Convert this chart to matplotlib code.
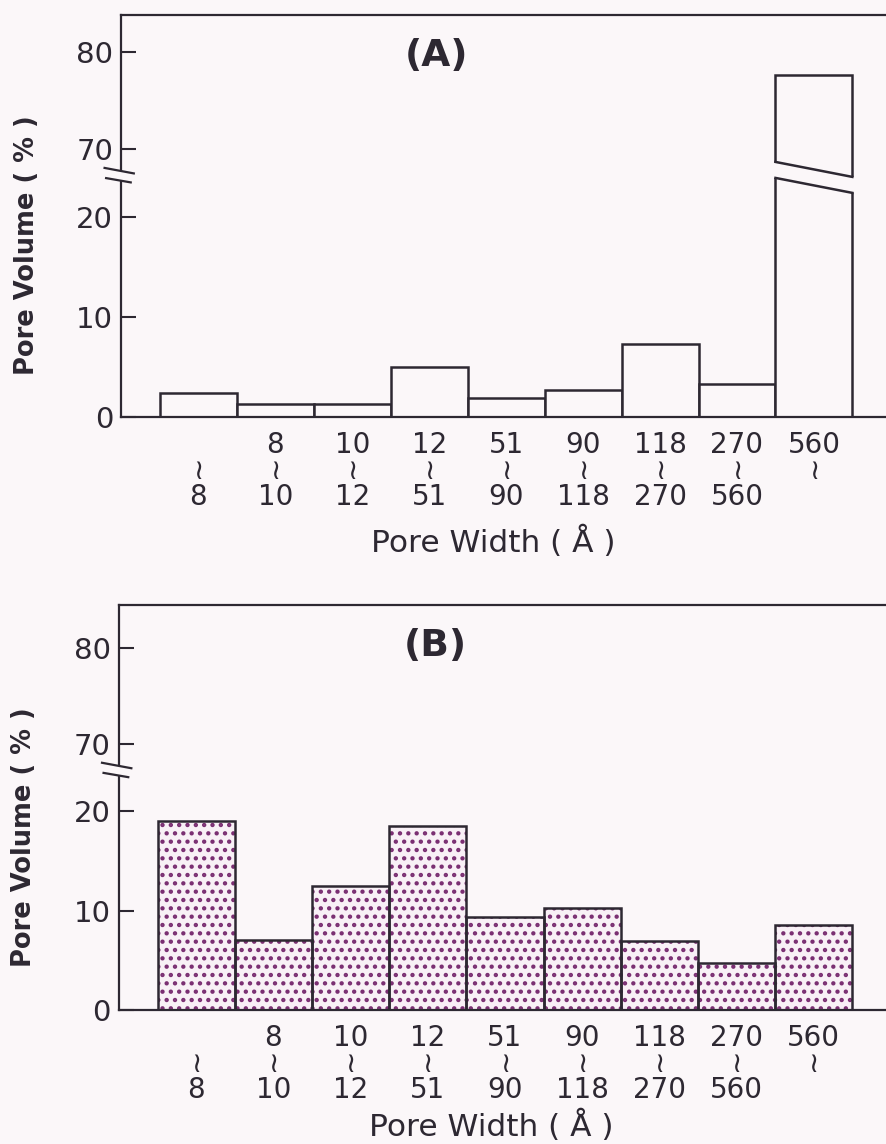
import numpy as np
import matplotlib
matplotlib.use("Agg")
import matplotlib.pyplot as plt
from matplotlib.patches import Polygon

# pore width classes (Angstrom) and pore volume share (%) for the two samples
lower_edges = ["", "8", "10", "12", "51", "90", "118", "270", "560"]
upper_edges = ["8", "10", "12", "51", "90", "118", "270", "560", ""]
volume_a = [2.4, 1.3, 1.3, 5.0, 1.9, 2.7, 7.3, 3.3, 77.6]
volume_b = [19.0, 7.1, 12.5, 18.5, 9.4, 10.3, 6.9, 4.7, 8.6]
ytick_values = [0, 10, 20, 70, 80]

BG = "#fbf7f9"
INK = "#2d2832"
DOT = "#7a2e72"
FILL = "#f8f0f6"

plt.rcParams["font.family"] = ["DejaVu Sans"]
plt.rcParams["hatch.linewidth"] = 1.9
plt.rcParams["text.color"] = INK

# broken y axis: true scale up to 22, squeeze 22..70, then slightly tighter above
LOW_TOP = 22.0
HIGH_BASE = 70.0
HIGH_POS = 26.75
HIGH_SLOPE = 0.975


def fwd(v):
    v = np.asarray(v, dtype=float)
    mid = LOW_TOP + (v - LOW_TOP) * (HIGH_POS - LOW_TOP) / (HIGH_BASE - LOW_TOP)
    high = HIGH_POS + (v - HIGH_BASE) * HIGH_SLOPE
    return np.where(v <= LOW_TOP, v, np.where(v < HIGH_BASE, mid, high))


def inv(u):
    u = np.asarray(u, dtype=float)
    mid = LOW_TOP + (u - LOW_TOP) * (HIGH_BASE - LOW_TOP) / (HIGH_POS - LOW_TOP)
    high = HIGH_BASE + (u - HIGH_POS) / HIGH_SLOPE
    return np.where(u <= LOW_TOP, u, np.where(u < HIGH_POS, mid, high))


def axis_break(ax):
    # the "//" mark on the left spine, drawn in scaled units
    tr = ax.transLimits + ax.transAxes
    x0 = ax.get_xlim()[0]
    ax.add_patch(Polygon([(x0 - 0.05, 24.60), (x0 + 0.05, 24.55),
                          (x0 + 0.05, 23.58), (x0 - 0.05, 23.63)],
                         closed=True, transform=tr, fc=BG, ec="none",
                         zorder=5, clip_on=False))
    ax.plot([x0 - 0.22, x0 + 0.16], [24.90, 24.35], transform=tr, color=INK,
            lw=1.6, zorder=6, clip_on=False)
    ax.plot([x0 - 0.20, x0 + 0.12], [23.88, 23.45], transform=tr, color=INK,
            lw=1.6, zorder=6, clip_on=False)


def cut_bar(ax, xc, width=1.0):
    # slanted gap through a bar that runs past the axis break
    tr = ax.transLimits + ax.transAxes
    x0, x1 = xc - width / 2, xc + width / 2
    lo = (23.9, 22.4)
    hi = (25.5, 24.0)
    ax.add_patch(Polygon([(x0 - 0.03, lo[0]), (x1 + 0.03, lo[1]),
                          (x1 + 0.03, hi[1]), (x0 - 0.03, hi[0])],
                         closed=True, transform=tr, fc=BG, ec="none", zorder=3))
    for ys in (lo, hi):
        ax.plot([x0, x1], ys, transform=tr, color=INK, lw=1.8, zorder=4,
                solid_capstyle="projecting")


def panel(ax, values, tag, ytop, hatched, xlabel_y):
    x = np.arange(len(values))
    ax.set_facecolor(BG)
    ax.set_yscale("function", functions=(fwd, inv))
    if hatched:
        ax.bar(x, values, width=1.0, facecolor=FILL, edgecolor=DOT,
               hatch="..", linewidth=0, zorder=1)
        ax.bar(x, values, width=1.0, fill=False, edgecolor=INK,
               linewidth=1.8, zorder=2)
    else:
        ax.bar(x, values, width=1.0, facecolor=BG, edgecolor=INK,
               linewidth=1.8, zorder=2)
    ax.set_xlim(-1.0, 8.95)
    ax.set_ylim(0, ytop)

    for i, v in enumerate(values):
        if v > HIGH_BASE:
            cut_bar(ax, x[i])

    ax.set_yticks(ytick_values)
    ax.set_yticklabels([str(t) for t in ytick_values])
    ax.tick_params(axis="y", direction="in", length=11, width=1.5, pad=6,
                   labelsize=21, color=INK, labelcolor=INK)

    ax.set_xticks(x)
    ax.set_xticklabels([f"{a}\n≀\n{b}" for a, b in zip(lower_edges, upper_edges)],
                       linespacing=0.92)
    ax.tick_params(axis="x", length=0, pad=10, labelsize=20, labelcolor=INK)

    for side in ("left", "bottom", "top"):
        ax.spines[side].set_linewidth(1.6)
        ax.spines[side].set_color(INK)
    ax.spines["right"].set_visible(False)

    axis_break(ax)

    ax.set_xlabel("Pore Width ( Å )", fontsize=22.5, color=INK)
    ax.xaxis.set_label_coords(0.4853, xlabel_y)
    ax.set_ylabel("Pore Volume ( % )", fontsize=18.5, fontweight="bold",
                  color=INK, va="center", ha="center", rotation_mode="default")
    ax.yaxis.set_label_coords(-0.124, 0.428)
    ax.text(0.412, 0.899, tag, transform=ax.transAxes, ha="center",
            va="center", fontsize=27, fontweight="bold", color=INK)


fig = plt.figure(figsize=(8.87, 11.44), dpi=100, facecolor=BG)
ax_a = fig.add_axes([121.5 / 887, 1 - 416.7 / 1144, 1 - 121.5 / 887, 401.7 / 1144])
ax_b = fig.add_axes([119 / 887, 1 - 1010 / 1144, 1 - 119 / 887, 405 / 1144])

panel(ax_a, volume_a, "(A)", 83.8, False, -0.272)
panel(ax_b, volume_b, "(B)", 84.4, True, -0.245)

fig.savefig("out.png", dpi=100, facecolor=BG)
